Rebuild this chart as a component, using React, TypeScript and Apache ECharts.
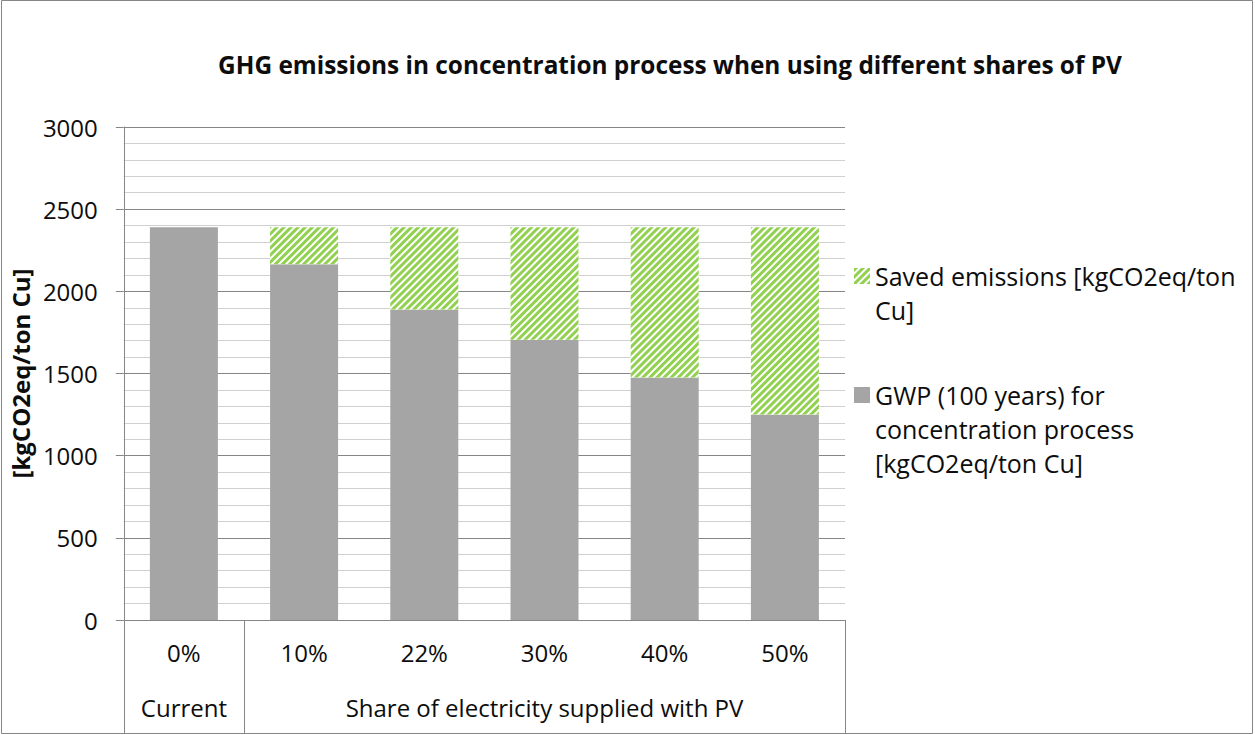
import React, { useEffect, useRef } from "react";
import * as echarts from "echarts";

const categories = ["0%", "10%", "22%", "30%", "40%", "50%"];
const gwpValues = [2390, 2165, 1890, 1705, 1475, 1250];
const savedValues = [0, 225, 500, 685, 915, 1140];
const groupLabels = ["Current", "Share of electricity supplied with PV"];
const groupCenters = [0.5, 3.5];
const groupBounds = [0, 1, 6];

const titleText = "GHG emissions in concentration process when using different shares of PV";
const yAxisName = "[kgCO2eq/ton Cu]";
const savedName = "Saved emissions [kgCO2eq/ton Cu]";
const gwpName = "GWP (100 years) for concentration process [kgCO2eq/ton Cu]";
// leading empty lines keep the legend icon level with the first text line
const legendLines: Record<string, string> = {
  [savedName]: "\nSaved emissions [kgCO2eq/ton\nCu]",
  [gwpName]: "\n\nGWP (100 years) for\nconcentration process\n[kgCO2eq/ton Cu]",
};

const FONT = "'Open Sans', sans-serif";
const AXIS_GRAY = "#868686";
const TEXT = "#0d0d0d";

export default function App() {
  const ref = useRef<HTMLDivElement>(null);
  useEffect(() => {
    document.body.style.margin = "0";
    if (!ref.current) return;
    const chart = echarts.init(ref.current, undefined, { renderer: "svg" });
    const legendBase = {
      left: 854,
      padding: 0,
      orient: "vertical",
      selectedMode: false,
      itemWidth: 16,
      itemHeight: 16,
      formatter: (n: string) => legendLines[n] || n,
      textStyle: { fontFamily: FONT, fontSize: 25, color: TEXT, lineHeight: 34 },
    };
    chart.setOption({
      animation: false,
      backgroundColor: "#ffffff",
      textStyle: { fontFamily: FONT, color: TEXT },
      title: {
        text: titleText,
        left: 665,
        top: 47,
        textAlign: "center",
        textStyle: { fontFamily: FONT, fontSize: 24.4, fontWeight: "bold", color: TEXT },
      },
      grid: { left: 123, right: 410, top: 127, bottom: 115, containLabel: false },
      legend: [
        { ...legendBase, data: [{ name: savedName, icon: "rect" }], top: 225 },
        { ...legendBase, data: [{ name: gwpName, icon: "rect" }], top: 310 },
      ],
      xAxis: [
        {
          type: "category",
          data: categories,
          position: "bottom",
          axisLine: { show: true, lineStyle: { color: AXIS_GRAY, width: 1 } },
          axisTick: { show: false },
          axisLabel: { fontFamily: FONT, fontSize: 24, color: TEXT, margin: 20 },
          splitLine: { show: false },
        },
        {
          type: "value",
          min: 0,
          max: 6,
          position: "bottom",
          axisLine: { show: false },
          splitLine: { show: false },
          axisTick: {
            show: true,
            customValues: groupBounds,
            length: 113,
            lineStyle: { color: AXIS_GRAY, width: 1 },
          },
          axisLabel: {
            customValues: groupCenters,
            fontFamily: FONT,
            fontSize: 24,
            color: TEXT,
            margin: 75,
            formatter: (v: number) => groupLabels[groupCenters.indexOf(v)] ?? "",
          },
        },
      ],
      yAxis: {
        type: "value",
        min: 0,
        max: 3000,
        interval: 500,
        name: yAxisName,
        nameLocation: "middle",
        nameGap: 88,
        nameTextStyle: { fontFamily: FONT, fontSize: 24, fontWeight: "bold", color: TEXT },
        axisLine: { show: true, lineStyle: { color: AXIS_GRAY, width: 1 } },
        axisTick: { show: true, length: 8, inside: false, lineStyle: { color: AXIS_GRAY } },
        axisLabel: {
          fontFamily: FONT,
          fontSize: 24,
          color: TEXT,
          margin: 26,
          formatter: (v: number) => String(v),
        },
        splitLine: { show: true, lineStyle: { color: AXIS_GRAY, width: 1 } },
        minorTick: { show: false, splitNumber: 5 },
        minorSplitLine: { show: true, lineStyle: { color: "#d0d0d0", width: 1 } },
      },
      series: [
        {
          name: gwpName,
          type: "bar",
          stack: "total",
          data: gwpValues,
          barWidth: 68,
          itemStyle: { color: "#a5a5a5" },
        },
        {
          name: savedName,
          type: "bar",
          stack: "total",
          data: savedValues,
          barWidth: 68,
          itemStyle: {
            color: "#ffffff",
            decal: {
              symbol: "rect",
              symbolSize: 1,
              color: "#92d050",
              backgroundColor: "#ffffff",
              dashArrayX: [1, 0],
              dashArrayY: [2.2, 1.8],
              rotation: -Math.PI / 4,
            },
          },
        },
      ],
      graphic: [
        {
          type: "rect",
          shape: { x: 1.5, y: 0.5, width: 1251, height: 733 },
          style: { fill: "none", stroke: AXIS_GRAY, lineWidth: 1 },
          silent: true,
          z: 100,
        },
      ],
    });
    return () => chart.dispose();
  }, []);
  return <div ref={ref} style={{ width: 1255, height: 735 }} />;
}
